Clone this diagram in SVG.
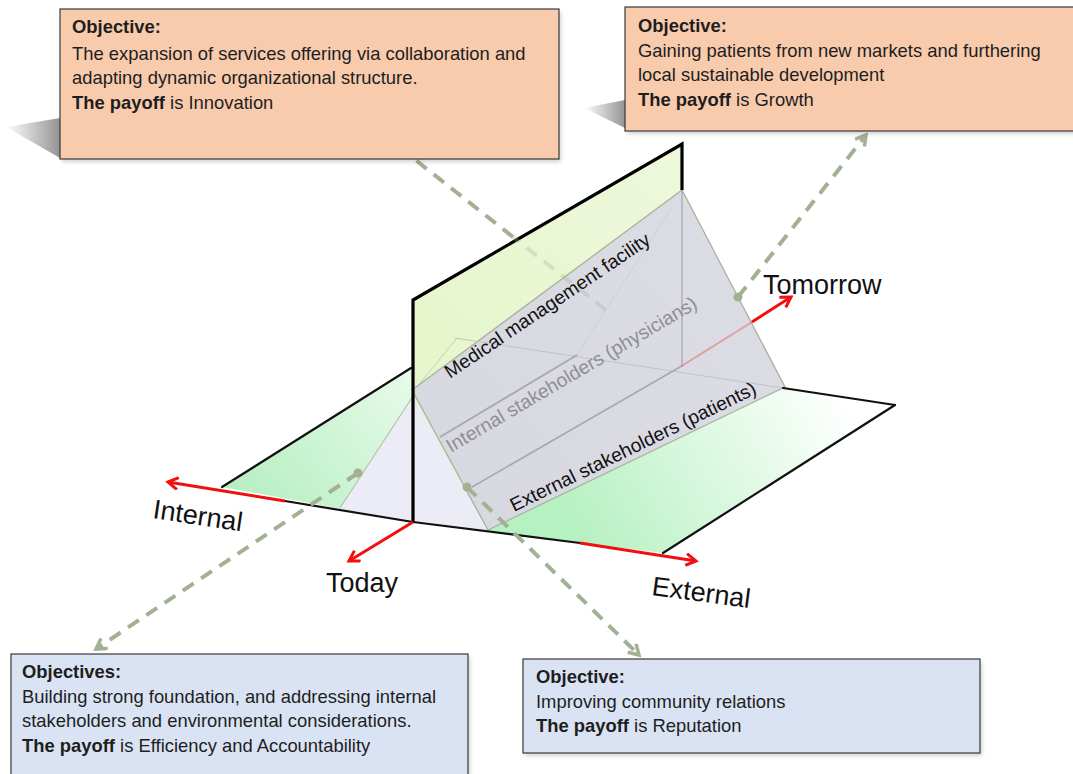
<svg xmlns="http://www.w3.org/2000/svg" width="1073" height="774" viewBox="0 0 1073 774">
<defs>
<style>
.pk{fill:#f8cbad;stroke:#3a3a3a;stroke-width:1.2}
.bl{fill:#dae3f3;stroke:#3a3a3a;stroke-width:1.2}
.bt{font-family:"Liberation Sans",Arial,sans-serif;font-size:18.4px;fill:#1e1e1e}
.b{font-weight:bold}
.ax{font-family:"Liberation Sans",Arial,sans-serif;font-size:27px;fill:#111}
.pt{font-family:"Liberation Sans",Arial,sans-serif;font-size:19.3px}
.edge{stroke:#111;stroke-width:2.2;fill:none;stroke-linecap:round}
.thick{stroke:#000;stroke-width:3.2;fill:none}
.red{stroke:#f01010;stroke-width:3;fill:none}
.dash{stroke:#a3b193;stroke-width:4;stroke-dasharray:13 9;fill:none}
.thin{stroke:#a6a6ae;stroke-width:1.2;fill:none}
</style>
<marker id="ra" viewBox="0 0 14 14" markerUnits="userSpaceOnUse" markerWidth="14" markerHeight="14" refX="11" refY="7" orient="auto">
<path d="M1,1 L11,7 L1,13" fill="none" stroke="#f01010" stroke-width="3"/>
</marker>
<marker id="ga" viewBox="0 0 14 14" markerUnits="userSpaceOnUse" markerWidth="14" markerHeight="14" refX="11" refY="7" orient="auto">
<path d="M1,1 L11,7 L1,13" fill="none" stroke="#a3b193" stroke-width="3.5"/>
</marker>
<marker id="gd" viewBox="0 0 10 10" markerUnits="userSpaceOnUse" markerWidth="10" markerHeight="10" refX="5" refY="5">
<circle cx="5" cy="5" r="4.5" fill="#a3b193"/>
</marker>
<linearGradient id="gLeft" gradientUnits="userSpaceOnUse" x1="250" y1="500" x2="411" y2="368">
<stop offset="0" stop-color="#b8efc2"/><stop offset="1" stop-color="#e8fbea"/>
</linearGradient>
<linearGradient id="gRight" gradientUnits="userSpaceOnUse" x1="580" y1="540" x2="840" y2="390">
<stop offset="0" stop-color="#b6f1c1"/><stop offset="1" stop-color="#ffffff"/>
</linearGradient>
<linearGradient id="gWall" gradientUnits="userSpaceOnUse" x1="413" y1="500" x2="682" y2="150">
<stop offset="0" stop-color="#e4f5c6"/><stop offset="1" stop-color="#eef8dc"/>
</linearGradient>
<linearGradient id="gPanel" gradientUnits="userSpaceOnUse" x1="450" y1="480" x2="760" y2="220">
<stop offset="0" stop-color="#d8d8e0"/><stop offset="1" stop-color="#dcdce4"/>
</linearGradient>
<linearGradient id="gSh" x1="0" y1="0" x2="1" y2="0">
<stop offset="0" stop-color="#888" stop-opacity="0"/><stop offset="1" stop-color="#888" stop-opacity="0.9"/>
</linearGradient>
<filter id="sh" x="-5%" y="-5%" width="110%" height="120%">
<feGaussianBlur stdDeviation="2"/>
</filter>
</defs>
<rect width="1073" height="774" fill="#ffffff"/>

<g id="figure">
<polygon points="222,487 411,368 413,522" fill="url(#gLeft)"/>
<polygon points="413,522 663,553 895,405 455,338 413,390" fill="url(#gRight)"/>
<polygon points="413,522 413,300 682,144 682,367" fill="url(#gWall)"/>
<polygon points="340,508 413,396 488,531 413,522" fill="#ececf6"/>
<polyline points="340,508 413,396" stroke="#b7c0a8" stroke-width="1.2" fill="none"/>
<polyline points="413,392 457,338" stroke="#c8cdb8" stroke-width="1" fill="none"/>
<polygon points="412,390 682,190 785,387 488,530" fill="url(#gPanel)" stroke="#a9b29c" stroke-width="1.3"/>
<line x1="682" y1="190" x2="682" y2="367" class="thin"/>
<line x1="455" y1="338" x2="783" y2="388" stroke="#c2c2ca" stroke-width="1"/>
<line x1="577" y1="355" x2="672" y2="207" stroke="#cfcfd6" stroke-width="1"/>
<line x1="440" y1="437" x2="577" y2="355" stroke="#a8a8b0" stroke-width="2"/>
<line x1="472" y1="487" x2="680" y2="367" stroke="#a8a8b0" stroke-width="1.6"/>
<line x1="222" y1="487" x2="411" y2="368" class="edge"/>
<line x1="285" y1="501" x2="413" y2="522" class="edge"/>
<line x1="413" y1="522" x2="580" y2="543" class="edge"/>
<line x1="663" y1="553" x2="895" y2="405" class="edge"/>
<line x1="895" y1="405" x2="783" y2="388" class="edge"/>
<polyline points="413,522 413,300 682,144 682,190" class="thick"/>
<text class="pt" fill="#111" transform="translate(450,379) rotate(-34)">Medical management facility</text>
<text class="pt" fill="#8e8e94" transform="translate(451,453) rotate(-30.5)">Internal stakeholders (physicians)</text>
<text class="pt" fill="#111" transform="translate(514,512) rotate(-26)">External stakeholders (patients)</text>
</g>

<g id="axes">
<line x1="285" y1="501" x2="168" y2="482" class="red" marker-end="url(#ra)"/>
<line x1="413" y1="522" x2="349" y2="561" class="red" marker-end="url(#ra)"/>
<line x1="580" y1="543" x2="696" y2="561" class="red" marker-end="url(#ra)"/>
<line x1="680" y1="367" x2="752" y2="322" stroke="#f01010" stroke-opacity="0.3" stroke-width="2"/>
<line x1="752" y1="322" x2="791" y2="297" class="red" marker-end="url(#ra)"/>
<text class="ax" x="763" y="294">Tomorrow</text>
<text class="ax" x="326" y="592">Today</text>
<text class="ax" transform="translate(152,518) rotate(8.5)">Internal</text>
<text class="ax" transform="translate(651,595) rotate(7.5)">External</text>
</g>

<g id="connectors">
<line x1="606" y1="310" x2="513" y2="237" class="dash" stroke-opacity="0.3"/>
<line x1="513" y1="237" x2="413" y2="158" class="dash"/>
<line x1="738" y1="297" x2="866" y2="135" class="dash" marker-start="url(#gd)" marker-end="url(#ga)"/>
<line x1="358" y1="473" x2="96" y2="649" class="dash" marker-start="url(#gd)" marker-end="url(#ga)"/>
<line x1="467" y1="487" x2="639" y2="655" class="dash" marker-start="url(#gd)" marker-end="url(#ga)"/>
</g>

<g id="box-innovation">
<polygon points="6,127 60,118 60,158" fill="url(#gSh)"/>
<rect x="62" y="12" width="499" height="150" fill="#000" opacity="0.18" filter="url(#sh)"/>
<rect x="60" y="9" width="499" height="150" class="pk"/>
<text class="bt" x="72" y="33"><tspan class="b">Objective:</tspan></text>
<text class="bt" x="72" y="60">The expansion of services offering via collaboration and</text>
<text class="bt" x="72" y="84">adapting dynamic organizational structure.</text>
<text class="bt" x="72" y="109"><tspan class="b">The payoff</tspan> is Innovation</text>
</g>

<g id="box-growth">
<polygon points="584,108 625,100 625,128" fill="url(#gSh)"/>
<rect x="627" y="10" width="450" height="124" fill="#000" opacity="0.18" filter="url(#sh)"/>
<rect x="625" y="7" width="452" height="124" class="pk"/>
<text class="bt" x="638" y="32"><tspan class="b">Objective:</tspan></text>
<text class="bt" x="638" y="57">Gaining patients from new markets and furthering</text>
<text class="bt" x="638" y="81">local sustainable development</text>
<text class="bt" x="638" y="106"><tspan class="b">The payoff</tspan> is Growth</text>
</g>

<g id="box-efficiency">
<rect x="13" y="657" width="457" height="125" fill="#000" opacity="0.18" filter="url(#sh)"/>
<rect x="11" y="654" width="457" height="125" class="bl"/>
<text class="bt" x="22" y="678"><tspan class="b">Objectives:</tspan></text>
<text class="bt" x="22" y="703">Building strong foundation, and addressing internal</text>
<text class="bt" x="22" y="727">stakeholders and environmental considerations.</text>
<text class="bt" x="22" y="752"><tspan class="b">The payoff</tspan> is Efficiency and Accountability</text>
</g>

<g id="box-reputation">
<rect x="525" y="662" width="457" height="94" fill="#000" opacity="0.18" filter="url(#sh)"/>
<rect x="523" y="659" width="457" height="94" class="bl"/>
<text class="bt" x="536" y="683"><tspan class="b">Objective:</tspan></text>
<text class="bt" x="536" y="708">Improving community relations</text>
<text class="bt" x="536" y="732"><tspan class="b">The payoff</tspan> is Reputation</text>
</g>
</svg>
